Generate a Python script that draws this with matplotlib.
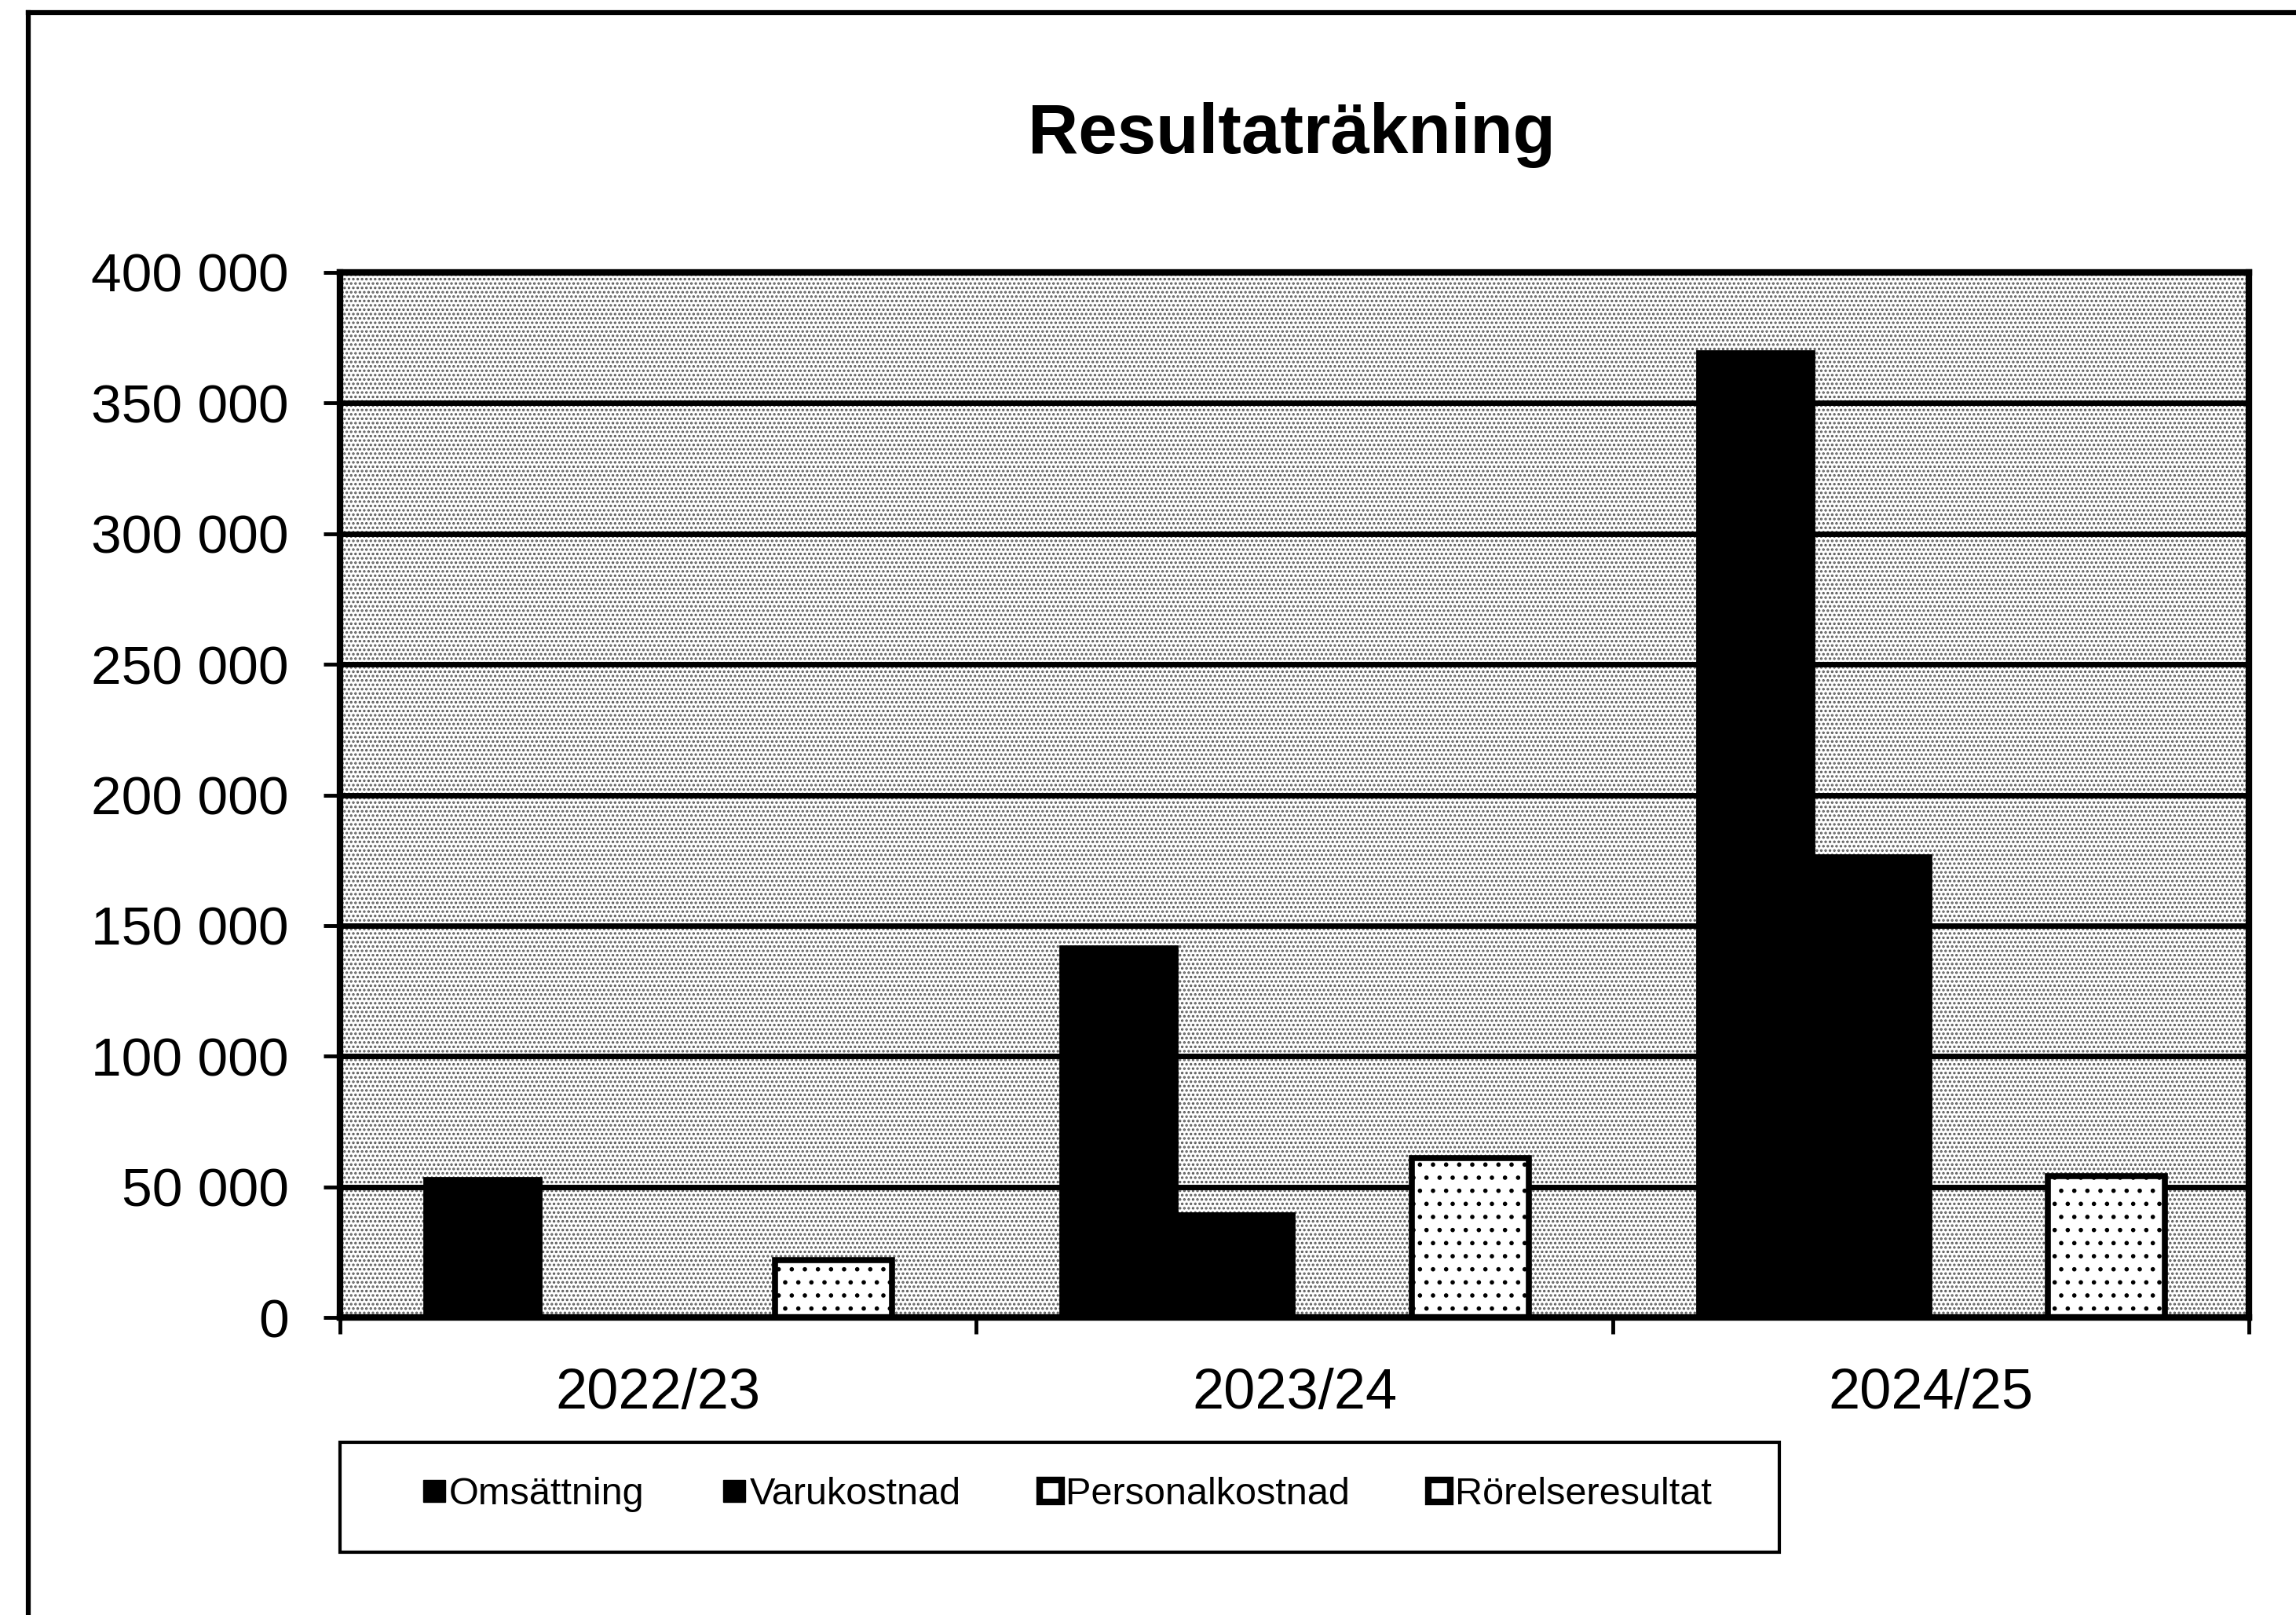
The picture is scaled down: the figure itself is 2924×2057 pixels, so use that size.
import numpy as np
import matplotlib.pyplot as plt
from matplotlib.lines import Line2D
from matplotlib.patches import Rectangle

plt.rcParams['font.family'] = ['Liberation Sans', 'DejaVu Sans']
plt.rcParams['hatch.linewidth'] = 1.6

years = ['2022/23', '2023/24', '2024/25']
series = ['Omsättning', 'Varukostnad', 'Personalkostnad', 'Rörelseresultat']
omsattning = [53500, 142000, 370000]
varukostnad = [0, 40000, 177000]
personalkostnad = [0, 0, 0]
rorelseresultat = [22000, 61000, 54000]
yticks = [0, 50000, 100000, 150000, 200000, 250000, 300000, 350000, 400000]

W, H = 2924, 2057
fig = plt.figure(figsize=(W / 100, H / 100), dpi=100)
ax = fig.add_axes([433 / W, 1 - 1678 / H, (2864 - 433) / W, (1678 - 347) / H])

# stippled background
ax.axhspan(0, 400000, facecolor='white', edgecolor='#5a5a5a', hatch='...', linewidth=0, zorder=0)
for y in yticks[1:-1]:
    ax.axhline(y, color='black', linewidth=5, zorder=1)

x = np.arange(len(years))
w = 0.184
offsets = [-1.5 * w, -0.5 * w, 0.5 * w, 1.5 * w]

ax.bar(x + offsets[0], omsattning, w, color='black', edgecolor='black', linewidth=2, zorder=2)
ax.bar(x + offsets[1], varukostnad, w, color='black', edgecolor='black', linewidth=2, zorder=2)
ax.bar(x + offsets[2], personalkostnad, w, color='white', edgecolor='black', linewidth=5.5, zorder=2)
ax.bar(x + offsets[3], rorelseresultat, w, color='white', edgecolor='black', linewidth=5.5,
       hatch='.', zorder=2)

ax.set_xlim(-0.5, len(years) - 0.5)
ax.set_ylim(0, 400000)

ax.set_yticks(yticks)
ax.set_yticklabels([f"{v:,}".replace(',', ' ') for v in yticks], fontsize=50)
ax.set_xticks(x)
ax.set_xticklabels(years, fontsize=52)
ax.set_xticks(np.arange(len(years) + 1) - 0.5, minor=True)
ax.tick_params(axis='x', which='major', length=0, pad=46)
ax.tick_params(axis='x', which='minor', length=15, width=3.5, direction='out')
ax.tick_params(axis='y', length=15, width=3.5, direction='out', pad=32)

for s in ax.spines.values():
    s.set_linewidth(6)

fig.text(0.5626, 0.9164, 'Resultaträkning', fontsize=64, fontweight='bold',
         ha='center', va='center')

handles = [
    Line2D([], [], linestyle='none', marker='s', markersize=20, markerfacecolor='black', markeredgecolor='black'),
    Line2D([], [], linestyle='none', marker='s', markersize=20, markerfacecolor='black', markeredgecolor='black'),
    Line2D([], [], linestyle='none', marker='s', markersize=20, markerfacecolor='white', markeredgecolor='black', markeredgewidth=6),
    Line2D([], [], linestyle='none', marker='s', markersize=20, markerfacecolor='white', markeredgecolor='black', markeredgewidth=6),
]
# legend box
fig.add_artist(Rectangle((433 / W, 1 - 1977 / H), (2266 - 433) / W, (1977 - 1837) / H,
                         transform=fig.transFigure, facecolor='white', edgecolor='black',
                         linewidth=3, zorder=3))
leg = fig.legend(handles, series, loc='center left', bbox_to_anchor=(538 / W, 1 - 1904 / H),
                 ncol=4, fontsize=35, frameon=False,
                 handlelength=0.6, handletextpad=0.1, columnspacing=2.05,
                 borderpad=0, borderaxespad=0)
leg.set_zorder(4)

# scan border: left and top
fig.add_artist(Line2D([0.0123, 0.0123], [0, 0.9922], color='black', linewidth=4.5))
fig.add_artist(Line2D([0.0123, 1], [0.9922, 0.9922], color='black', linewidth=4.5))

fig.savefig('out.png', dpi=100)
